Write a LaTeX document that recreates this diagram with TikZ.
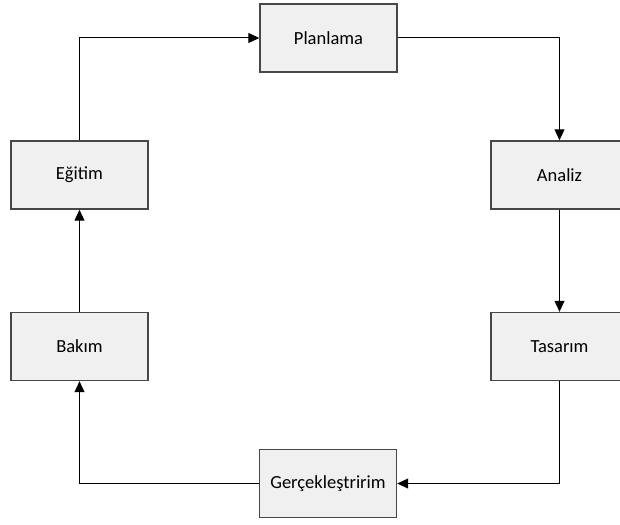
\documentclass[tikz,border=0pt]{standalone}
\usepackage{fontspec}
\setmainfont{Carlito}
\usetikzlibrary{arrows.meta}
\definecolor{BoxFill}{HTML}{F0F0F0}
\definecolor{BoxLine}{HTML}{474747}

\begin{document}
\begin{tikzpicture}[x=1pt, y=-1pt, font=\fontsize{18.5}{22}\selectfont,
    stage/.style={draw=BoxLine, fill=BoxFill, line width=1.4pt, minimum width=137pt, minimum height=68pt, inner sep=0pt},
    flow/.style={draw=black, line width=1pt, -{Triangle[length=11pt, width=10pt]}}]
    \useasboundingbox (0, 0) rectangle (620, 524);
    \clip (0, 0) rectangle (620, 524);
    \node[stage] (planlama) at (328.5, 38) {Planlama};
    \node[stage] (analiz) at (559.5, 175) {Analiz};
    \node[stage] (tasarim) at (559.5, 346.5) {Tasarım};
    \node[stage] (gercek) at (328, 483.5) {Gerçekleştririm};
    \node[stage] (bakim) at (79.5, 346.5) {Bakım};
    \node[stage] (egitim) at (79.5, 175) {Eğitim};
    \draw[flow] (planlama.east) -| (analiz.north);
    \draw[flow] (analiz.south) -- (tasarim.north);
    \draw[flow] (tasarim.south) |- (gercek.east);
    \draw[flow] (gercek.west) -| (bakim.south);
    \draw[flow] (bakim.north) -- (egitim.south);
    \draw[flow] (egitim.north) |- (planlama.west);
\end{tikzpicture}
\end{document}
